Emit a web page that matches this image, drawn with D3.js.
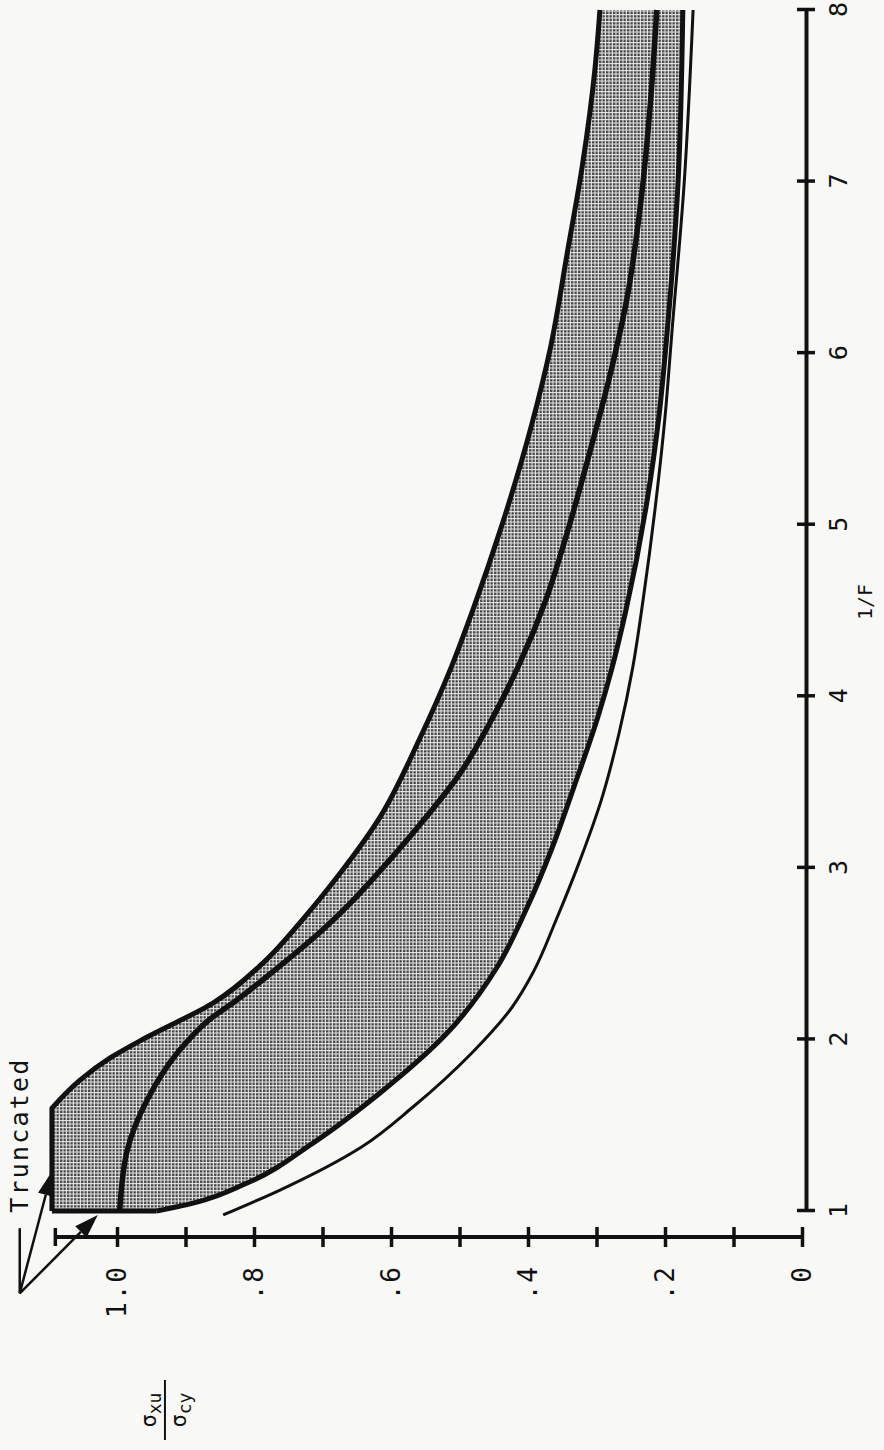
<!DOCTYPE html>
<html>
<head>
<meta charset="utf-8">
<script src="https://cdn.jsdelivr.net/npm/d3@7"></script>
<style>
body { margin: 0; background: #f8f8f6; }
svg { display: block; }
text { font-family: "DejaVu Sans Mono", monospace; fill: #111; }
</style>
</head>
<body>
<div id="chart"></div>
<script>
// values: 1/F  ->  sigma_xu / sigma_cy
var truncLevel = 1.095;   // band is cut flat here for 1/F < 1.6

var upperF = [1.6, 1.763, 1.892, 2.014, 2.212, 2.445, 2.713, 2.929, 3.296, 3.745, 4.17, 4.52, 4.986, 5.592, 6.017, 6.6, 7.084, 7.667, 8.0];
var upperS = [1.095, 1.054, 1.01, 0.956, 0.86, 0.787, 0.726, 0.682, 0.616, 0.559, 0.512, 0.479, 0.439, 0.394, 0.368, 0.342, 0.321, 0.302, 0.295];

var midF = [1.0, 1.355, 1.647, 1.921, 2.113, 2.23, 2.445, 2.638, 2.812, 2.929, 3.203, 3.552, 3.902, 4.193, 4.561, 4.951, 5.435, 5.86, 6.309, 6.892, 7.474, 8.0];
var midS = [0.996, 0.985, 0.956, 0.912, 0.866, 0.825, 0.757, 0.7, 0.655, 0.628, 0.568, 0.499, 0.448, 0.412, 0.374, 0.343, 0.309, 0.281, 0.256, 0.235, 0.221, 0.212];

var lowF = [1.0, 1.052, 1.163, 1.396, 1.688, 2.037, 2.422, 2.754, 3.104, 3.471, 3.879, 4.17, 4.502, 5.143, 5.627, 6.117, 6.991, 8.0];
var lowS = [0.942, 0.883, 0.81, 0.714, 0.616, 0.518, 0.445, 0.403, 0.366, 0.333, 0.298, 0.277, 0.257, 0.226, 0.209, 0.197, 0.181, 0.174];

var thinF = [0.977, 1.122, 1.373, 1.606, 1.921, 2.189, 2.387, 2.696, 3.045, 3.395, 3.786, 4.17, 4.561, 5.143, 5.627, 6.117, 6.991, 8.0];
var thinS = [0.845, 0.762, 0.643, 0.568, 0.482, 0.423, 0.393, 0.359, 0.324, 0.293, 0.267, 0.247, 0.232, 0.213, 0.2, 0.19, 0.172, 0.159];

var fTicks = [1, 2, 3, 4, 5, 6, 7, 8];
var sTicks = [0, 0.1, 0.2, 0.3, 0.4, 0.5, 0.6, 0.7, 0.8, 0.9, 1.0];
var sLabels = ["0", "", ".2", "", ".4", "", ".6", "", ".8", "", "1.0"];
var sAxisEnd = 1.09;

// "Truncated" note: leader + two arrows (in data units)
var noteVertex = [0.52, 1.142], noteTop = [0.90, 1.142];
var noteTips = [[1.23, 1.095], [0.977, 1.028]];
var noteText = [0.99, 1.13];
var fLabelPos = 4.55;
var sLabelPos = [-0.16, 0.93];

var width = 884, height = 1450;

var svg = d3.select("#chart").append("svg")
    .attr("width", width)
    .attr("height", height);

svg.append("rect").attr("width", width).attr("height", height).attr("fill", "#f8f8f6");

var pat = svg.append("defs").append("pattern")
    .attr("id", "screen")
    .attr("patternUnits", "userSpaceOnUse")
    .attr("width", 3.5).attr("height", 3.5);
pat.append("rect").attr("width", 3.5).attr("height", 3.5).attr("fill", "#e6e6e6");
pat.append("rect").attr("width", 2.4).attr("height", 2.4).attr("fill", "#454545");

// the chart is laid out normally and then turned a quarter turn to the left
var x = d3.scaleLinear().domain([1, 8]).range([0, 1201]);
var y = d3.scaleLinear().domain([0, 1]).range([0, -685]);

var g = svg.append("g").attr("transform", "translate(802,1211) rotate(-90)");
var bandG = g.append("g");
var lineG = g.append("g");

function pts(fs, ss) {
    return fs.map(function (f, i) { return [f, ss[i]]; });
}
var line = d3.line()
    .x(function (d) { return x(d[0]); })
    .y(function (d) { return y(d[1]); })
    .curve(d3.curveMonotoneX);

var upperD = "M" + x(1) + "," + y(truncLevel) + line(pts(upperF, upperS)).replace(/^M/, "L");

var lowPath = lineG.append("path")
    .attr("d", line(pts(lowF, lowS)))
    .attr("fill", "none").attr("stroke", "#111").attr("stroke-width", 5);

// walk the lower edge backwards to close the band
var node = lowPath.node(), len = node.getTotalLength(), back = [];
for (var i = 200; i >= 0; i--) {
    var p = node.getPointAtLength(len * i / 200);
    back.push(p.x + "," + p.y);
}
bandG.append("path")
    .attr("d", upperD + "L" + back.join("L") + "Z")
    .attr("fill", "url(#screen)");

lineG.append("path").attr("d", upperD)
    .attr("fill", "none").attr("stroke", "#111").attr("stroke-width", 5).attr("stroke-linejoin", "round");
lineG.append("line")
    .attr("x1", x(1)).attr("x2", x(1))
    .attr("y1", y(lowS[0])).attr("y2", y(truncLevel))
    .attr("stroke", "#111").attr("stroke-width", 5);
lineG.append("path").attr("d", line(pts(midF, midS)))
    .attr("fill", "none").attr("stroke", "#111").attr("stroke-width", 5.5);
lineG.append("path").attr("d", line(pts(thinF, thinS)))
    .attr("fill", "none").attr("stroke", "#111").attr("stroke-width", 3);

// 1/F axis
var fAxis = d3.axisBottom(x).tickValues(fTicks).tickSize(0).tickSizeOuter(0).tickFormat(d3.format("d"));
var fAxisG = g.append("g").attr("transform", "translate(0,4)").call(fAxis)
    .attr("font-family", "DejaVu Sans Mono").attr("font-size", 25);
fAxisG.select(".domain").attr("stroke", "#111").attr("stroke-width", 4);
fAxisG.selectAll(".tick line").attr("y1", -9).attr("y2", 9).attr("stroke", "#111").attr("stroke-width", 3.5);
fAxisG.selectAll(".tick text").attr("y", 23).attr("dy", "0.71em").attr("fill", "#111");

g.append("text")
    .attr("x", x(fLabelPos)).attr("y", 70)
    .attr("text-anchor", "middle").attr("font-size", 20)
    .text("1/F");

// sigma axis
var sAxis = d3.axisLeft(y).tickValues(sTicks).tickSize(0).tickSizeOuter(0)
    .tickFormat(function (d, i) { return sLabels[i]; });
var sAxisG = g.append("g").attr("transform", "translate(-26,0)").call(sAxis)
    .attr("font-family", "DejaVu Sans Mono").attr("font-size", 26);
sAxisG.select(".domain").remove();
sAxisG.append("line")
    .attr("y1", y(0)).attr("y2", y(sAxisEnd))
    .attr("stroke", "#111").attr("stroke-width", 4);
sAxisG.append("line")
    .attr("x1", -9).attr("x2", 9).attr("y1", y(sAxisEnd)).attr("y2", y(sAxisEnd))
    .attr("stroke", "#111").attr("stroke-width", 3.5);
sAxisG.selectAll(".tick line").attr("x1", -10).attr("x2", 10).attr("stroke", "#111").attr("stroke-width", 3.5);
sAxisG.selectAll(".tick text").attr("x", -28).attr("dy", "0.34em").attr("fill", "#111").attr("letter-spacing", 2);

// axis title sigma_xu / sigma_cy
var st = g.append("g").attr("transform", "translate(" + x(sLabelPos[0]) + "," + y(sLabelPos[1]) + ")");
var num = st.append("text").attr("y", -9).attr("text-anchor", "middle").attr("font-size", 22);
num.append("tspan").text("σ");
num.append("tspan").attr("font-size", 18).attr("dy", 5).text("xu");
st.append("line").attr("x1", -30).attr("x2", 30).attr("stroke", "#111").attr("stroke-width", 2);
var den = st.append("text").attr("y", 21).attr("text-anchor", "middle").attr("font-size", 22);
den.append("tspan").text("σ");
den.append("tspan").attr("font-size", 18).attr("dy", 5).text("cy");

// "Truncated" note
var note = g.append("g");
note.append("line")
    .attr("x1", x(noteVertex[0])).attr("y1", y(noteVertex[1]))
    .attr("x2", x(noteTop[0])).attr("y2", y(noteTop[1]))
    .attr("stroke", "#111").attr("stroke-width", 2.5);
noteTips.forEach(function (t) {
    var x0 = x(noteVertex[0]), y0 = y(noteVertex[1]);
    var x1 = x(t[0]), y1 = y(t[1]);
    var dx = x1 - x0, dy = y1 - y0, d = Math.sqrt(dx * dx + dy * dy);
    var ux = dx / d, uy = dy / d, head = 24, half = 8;
    var bx = x1 - ux * head, by = y1 - uy * head;
    note.append("line")
        .attr("x1", x0).attr("y1", y0).attr("x2", bx).attr("y2", by)
        .attr("stroke", "#111").attr("stroke-width", 2.5);
    note.append("path")
        .attr("d", "M" + x1 + "," + y1 +
            "L" + (bx - uy * half) + "," + (by + ux * half) +
            "L" + (bx + uy * half) + "," + (by - ux * half) + "Z")
        .attr("fill", "#111");
});
note.append("text")
    .attr("x", x(noteText[0])).attr("y", y(noteText[1]))
    .attr("font-size", 25).attr("textLength", 153).attr("lengthAdjust", "spacing")
    .text("Truncated");
</script>
</body>
</html>
